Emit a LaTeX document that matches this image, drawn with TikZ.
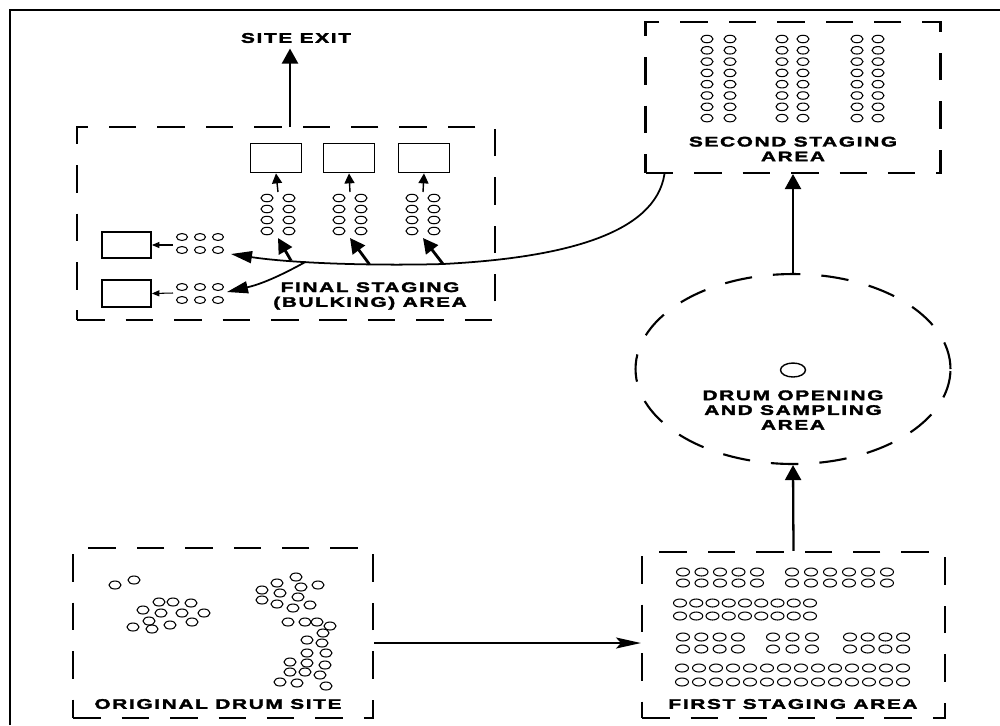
\documentclass[tikz,border=0pt]{standalone}
\usepackage{fontspec}
\newfontfamily\areafont[FakeStretch=1.5,LetterSpace=12,FakeBold=2.5]{Liberation Sans Bold}
\usetikzlibrary{shapes.geometric, arrows.meta, positioning, calc}

\begin{document}
\begin{tikzpicture}[
            x=0.02cm, y=-0.02cm,
            area/.style={
                rectangle,
                draw,
                line width=1.2pt,
                dash pattern=on 0.55cm off 0.42cm,
                inner sep=0pt
            },
            bin/.style={
                rectangle,
                draw,
                line width=1pt,
                minimum width=1.02cm,
                minimum height=0.58cm,
                inner sep=0pt
            },
            label/.style={font=\areafont\fontsize{7.9}{8.4}\selectfont, align=center, inner sep=0pt},
            drum/.style={line width=0.6pt},
            flow/.style={line width=1.3pt, -{Triangle[length=0.3cm, width=0.32cm]}},
            longflow/.style={line width=1.2pt, -{Stealth[length=0.5cm, width=0.22cm, inset=0.1cm]}},
            route/.style={line width=1pt, -{Triangle[length=0.42cm, width=0.24cm]}},
            push/.style={line width=1.6pt, -{Triangle[length=0.3cm, width=0.3cm]}},
            feed/.style={line width=0.8pt, -{Triangle[length=0.2cm, width=0.2cm]}},
            tiny/.style={line width=0.6pt, -{Triangle[length=0.15cm, width=0.12cm]}}
        ]
            \useasboundingbox (0,0) rectangle (1000,725);
            \draw[line width=1pt] (10,725) -- (10,10) -- (1000,10);

            % Areas
            \node[area, minimum width=5.9cm, minimum height=3.02cm] (second) at (793,97.5) {};
            \node[area, minimum width=8.36cm, minimum height=3.86cm] (final) at (286,223.5) {};
            \node[area, ellipse, minimum width=6.3cm, minimum height=3.8cm] (opening) at (793,369) {};
            \node[area, minimum width=6.06cm, minimum height=3.32cm] (first) at (793.5,635) {};
            \node[area, minimum width=6cm, minimum height=3.4cm] (original) at (223,633) {};

            % Labels
            \node[label] (exitlbl) at (296,38) {SITE EXIT};
            \node[label] (secondlbl) at (793,149) {SECOND STAGING\\AREA};
            \node[label] (finallbl) at (370,296) {FINAL STAGING\\(BULKING) AREA};
            \node[label] (openinglbl) at (793,410) {DRUM OPENING\\AND SAMPLING\\AREA};
            \node[label] (originallbl) at (218,704) {ORIGINAL DRUM SITE};
            \node[label] (firstlbl) at (793,704) {FIRST STAGING AREA};

            % Bulking bins
            \node[bin] (bin1) at (276,158) {};
            \node[bin] (bin2) at (349,158) {};
            \node[bin] (bin3) at (424,158) {};
            \node[bin, minimum width=0.98cm, minimum height=0.52cm] (bin4) at (126.5,245) {};
            \node[bin, minimum width=0.98cm, minimum height=0.54cm] (bin5) at (126.5,293.5) {};

            % Drums in final staging
            \foreach \c/\n in {278/1, 350/2, 423/3} {
                \foreach \r in {0,...,3} {
                    \draw[drum] (\c-11,198+11*\r) ellipse[x radius=0.12cm, y radius=0.075cm];
                    \draw[drum] (\c+11,198+11*\r) ellipse[x radius=0.12cm, y radius=0.075cm];
                }
                \coordinate (top\n) at (\c,192);
                \coordinate (low\n) at (\c,238);
            }
            \foreach \y in {237,250,287,300}
                \foreach \x in {182,200,218}
                    \draw[drum] (\x,\y) ellipse[x radius=0.11cm, y radius=0.07cm];
            \coordinate (out4) at (173,245);
            \coordinate (out5) at (173,293);

            % Drums in second staging
            \foreach \x in {707,730,782,803,857,878}
                \foreach \r in {0,...,7}
                    \draw[drum] (\x,39+11.3*\r) ellipse[x radius=0.12cm, y radius=0.075cm];

            % Drum being opened
            \draw[drum, line width=0.8pt] (793,370) ellipse[x radius=0.25cm, y radius=0.14cm];

            % Drums in first staging
            \foreach \y in {572,583} {
                \foreach \i in {0,...,4} \draw[drum] (683+18.5*\i,\y) ellipse[x radius=0.13cm, y radius=0.08cm];
                \foreach \i in {0,...,5} \draw[drum] (792+19*\i,\y) ellipse[x radius=0.13cm, y radius=0.08cm];
            }
            \foreach \y in {603,616}
                \foreach \i in {0,...,8} \draw[drum] (680+16.25*\i,\y) ellipse[x radius=0.13cm, y radius=0.08cm];
            \foreach \y in {637,649} {
                \foreach \i in {0,...,3} \draw[drum] (683+18.3*\i,\y) ellipse[x radius=0.13cm, y radius=0.08cm];
                \foreach \i in {0,...,2} \draw[drum] (773+19.5*\i,\y) ellipse[x radius=0.13cm, y radius=0.08cm];
                \foreach \i in {0,...,3} \draw[drum] (850+17.7*\i,\y) ellipse[x radius=0.13cm, y radius=0.08cm];
            }
            \foreach \y in {668,682}
                \foreach \i in {0,...,13} \draw[drum] (682+17*\i,\y) ellipse[x radius=0.13cm, y radius=0.08cm];

            % Drums at the original site
            \foreach \x/\y in {115/585, 134/580, 159/602, 173/602, 191/603, 143/610, 161/613, 182/613,
                               204/613, 149/621, 170/625, 192/622, 133/627, 152/629,
                               296/577, 277/583, 301/587, 318/585, 262/590, 280/593, 298/597,
                               262/600, 277/604, 293/608, 310/605, 288/622, 305/622, 317/622,
                               330/626, 323/633, 307/640, 322/643, 307/653, 326/653, 290/662,
                               307/663, 325/665, 290/672, 305/672, 320/675, 280/682, 297/683, 326/686}
                \draw[drum] (\x,\y) ellipse[x radius=0.12cm, y radius=0.08cm];

            % Forward flow
            \draw[longflow] (original.east |- 0,643) -- (first.west |- 0,643);
            \draw[flow] (first.north) -- (opening.south);
            \draw[flow] (opening.north) -- (second.south);
            \coordinate (gate) at (290,127);
            \draw[flow] (gate) -- ([yshift=-3pt]exitlbl.south -| gate);

            % Return to bulking area
            \coordinate (leave) at ($(second.south west)+(20,0)$);
            \coordinate (inA) at (231,254);
            \coordinate (inB) at (227,292);
            \draw[route] (leave) .. controls (655,235) and (560,258) .. (443,264) coordinate (tap3)
                .. controls (370,266) and (290,263) .. (inA)
                coordinate[pos=0.33] (tap2) coordinate[pos=0.62] (fork) coordinate[pos=0.69] (tap1);
            \draw[route] (fork) to[bend left=8] (inB);
            \draw[push] (tap1) -- (low1);
            \draw[push] (tap2) -- (low2);
            \draw[push] (tap3) -- (low3);

            % Into the bins
            \draw[feed] (top1) -- (bin1.south);
            \draw[feed] (top2) -- (bin2.south);
            \draw[feed] (top3) -- (bin3.south);
            \draw[tiny] (out4) -- (bin4.east);
            \draw[tiny] (out5) -- (bin5.east);
        \end{tikzpicture}
\end{document}
